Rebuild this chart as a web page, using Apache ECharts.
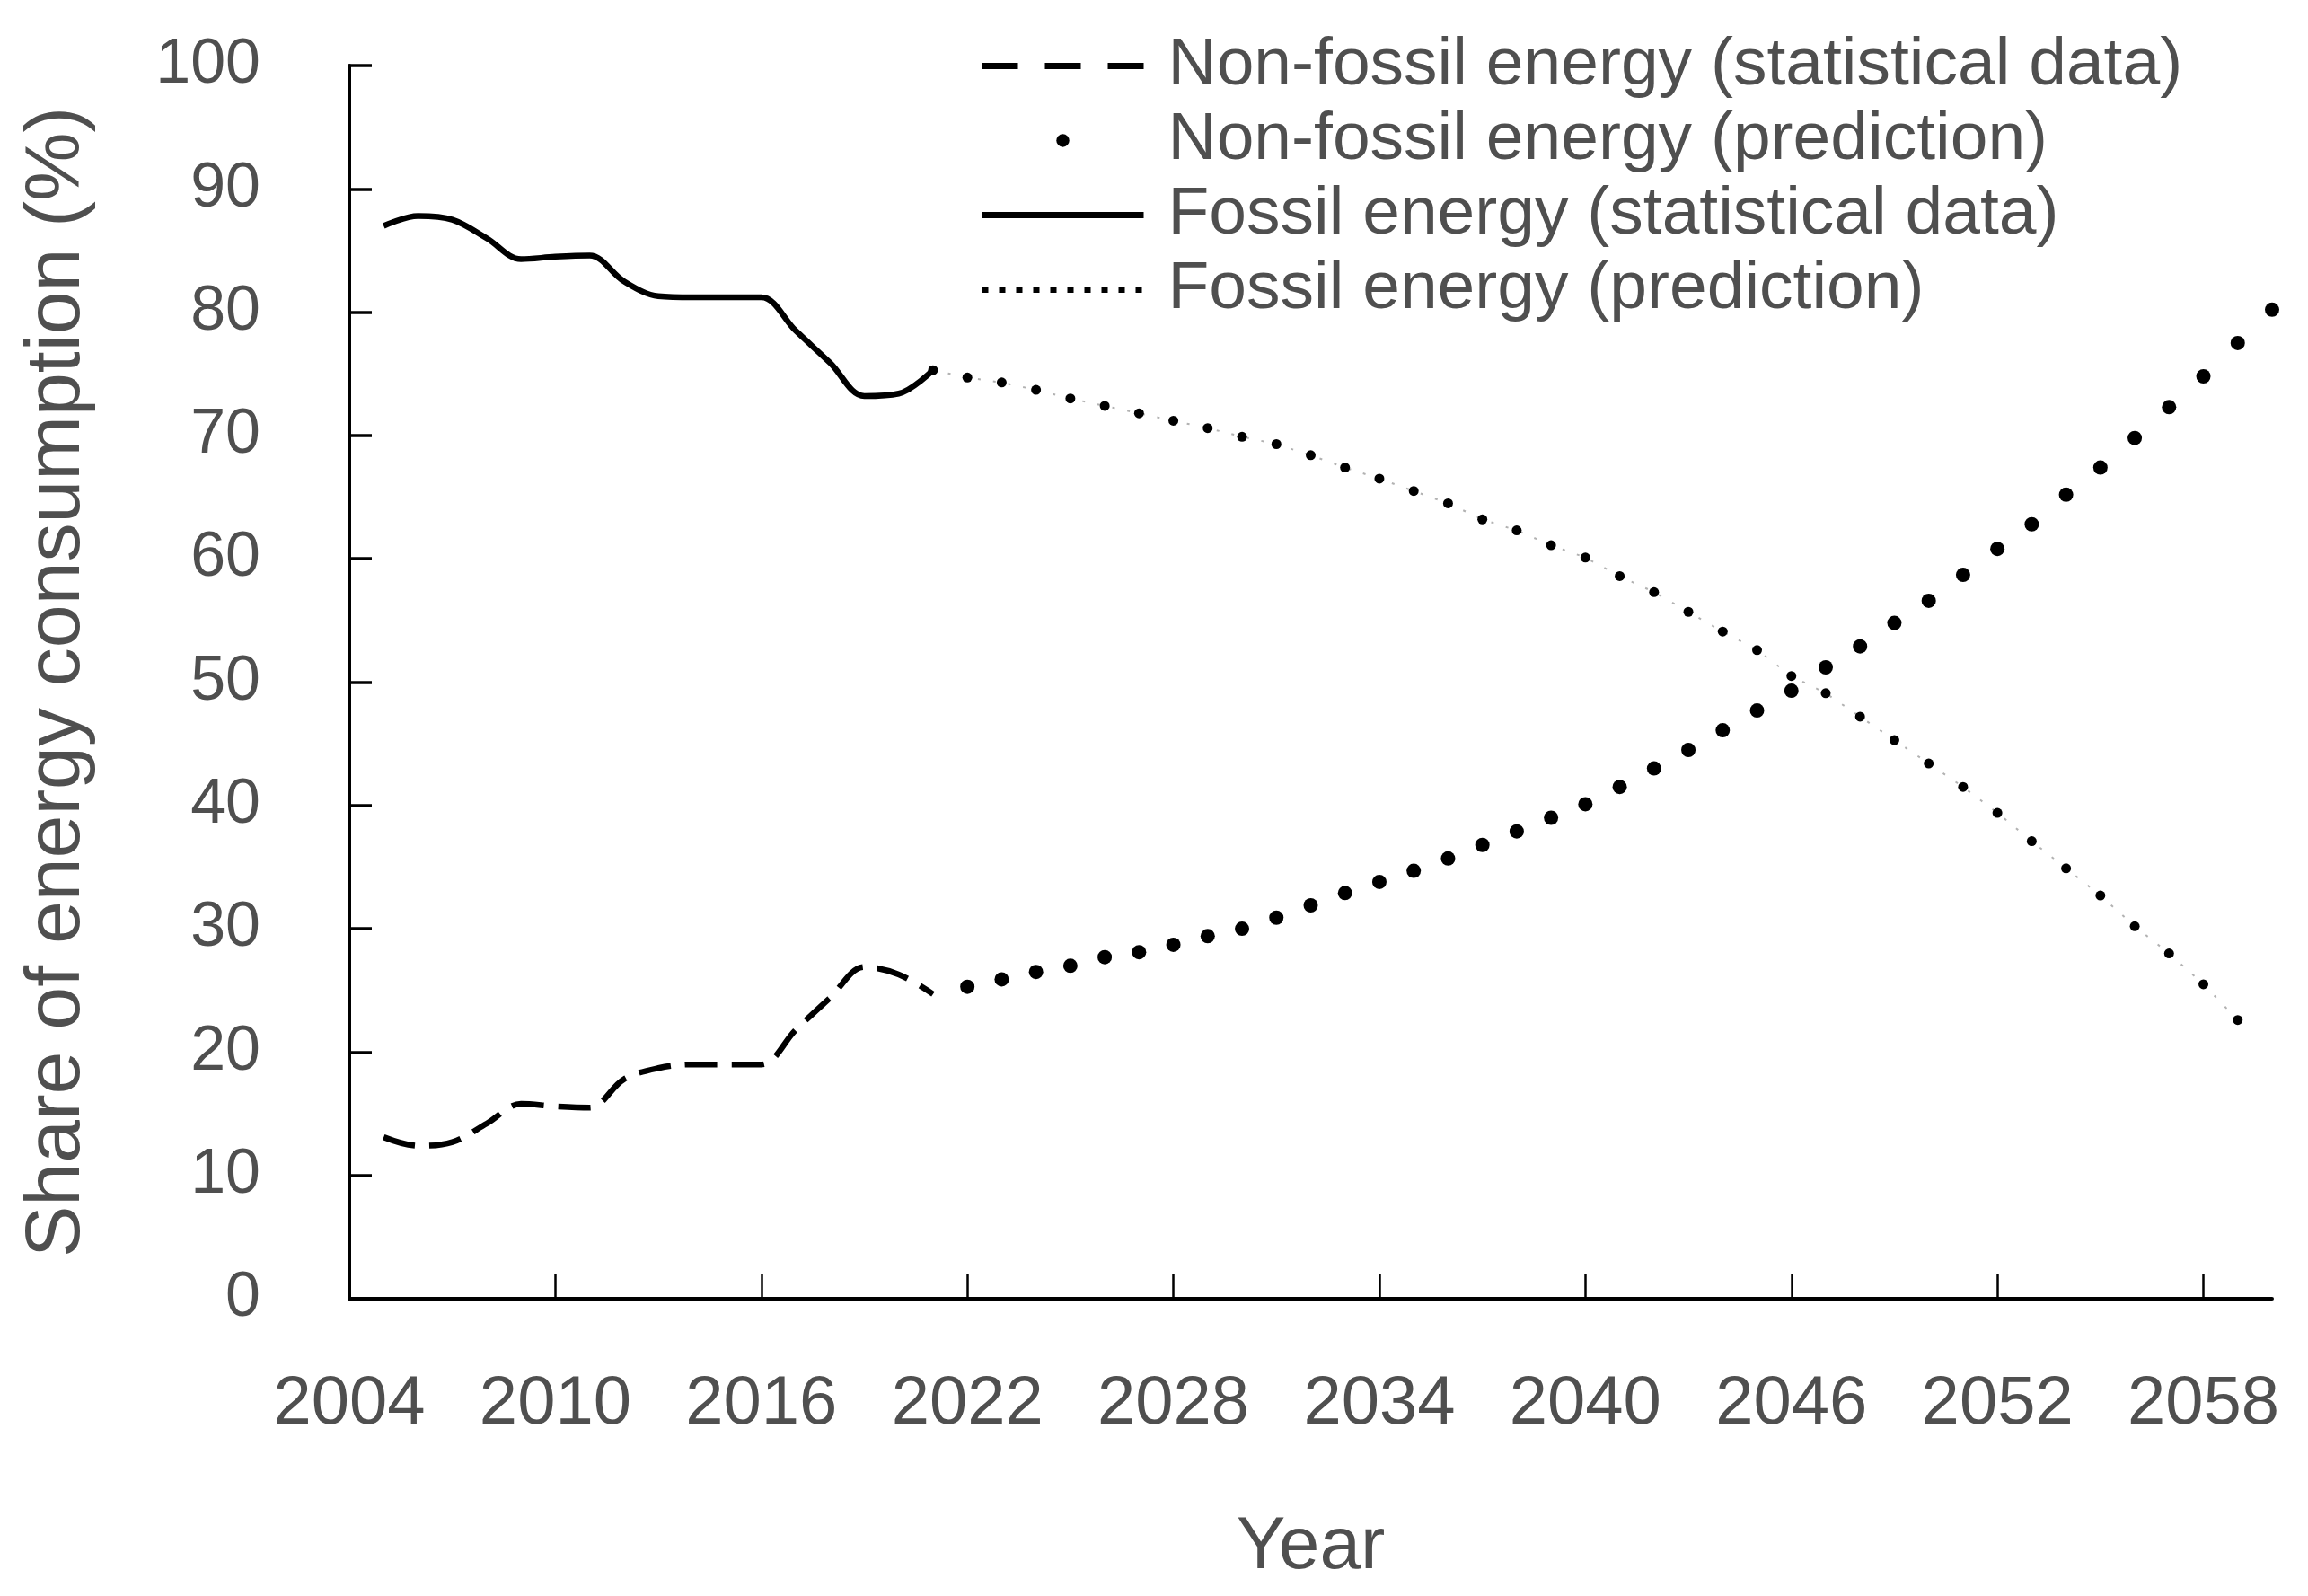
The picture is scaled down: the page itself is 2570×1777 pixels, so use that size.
<!DOCTYPE html>
<html><head><meta charset="utf-8">
<script src="https://cdn.jsdelivr.net/npm/echarts@6/dist/echarts.min.js"></script>
<style>html,body{margin:0;padding:0;background:#fff}#c{width:2570px;height:1777px}</style>
</head><body><div id="c"></div>
<script>
const statYears = [2005,2006,2007,2008,2009,2010,2011,2012,2013,2014,2015,2016,2017,2018,2019,2020,2021];
const nonFossilStat = [13.1,12.4,12.7,14.2,15.8,15.6,15.5,17.8,18.7,19.0,19.0,19.0,21.8,24.4,26.9,26.3,24.7];
const fossilStat = [87.0,87.8,87.5,86.0,84.3,84.5,84.6,82.5,81.3,81.2,81.2,81.2,78.5,75.9,73.2,73.4,75.3];

const nonFossilPredYears = [2022,2023,2024,2025,2026,2027,2028,2029,2030,2031,2032,2033,2034,2035,2036,2037,2038,2039,2040,2041,2042,2043,2044,2045,2046,2047,2048,2049,2050,2051,2052,2053,2054,2055,2056,2057,2058,2059,2060];
const nonFossilPred = [25.3,25.9,26.5,27.0,27.7,28.1,28.7,29.4,30.0,30.9,31.9,32.9,33.8,34.7,35.7,36.8,37.9,39.0,40.1,41.5,43.0,44.5,46.1,47.7,49.3,51.2,52.9,54.8,56.6,58.7,60.8,62.8,65.2,67.4,69.8,72.3,74.8,77.5,80.2];

const fossilPredYears = [2021,2022,2023,2024,2025,2026,2027,2028,2029,2030,2031,2032,2033,2034,2035,2036,2037,2038,2039,2040,2041,2042,2043,2044,2045,2046,2047,2048,2049,2050,2051,2052,2053,2054,2055,2056,2057,2058,2059];
const fossilPred = [75.3,74.7,74.3,73.7,73.0,72.4,71.8,71.2,70.6,69.9,69.3,68.4,67.4,66.5,65.5,64.5,63.2,62.3,61.1,60.1,58.6,57.3,55.7,54.1,52.6,50.5,49.1,47.2,45.3,43.4,41.5,39.4,37.1,34.9,32.7,30.2,28.0,25.5,22.6];

const xTickLabels = [2004,2010,2016,2022,2028,2034,2040,2046,2052,2058];
const seriesNames = ['Non-fossil energy (statistical data)','Non-fossil energy (prediction)','Fossil energy (statistical data)','Fossil energy (prediction)'];

const zip = (xs, ys) => xs.map((x, i) => [x, ys[i]]);
const FONT = "'Liberation Sans', Arial, sans-serif";
const TXT = '#4f4f4f';

const chart = echarts.init(document.getElementById('c'));
chart.setOption({
  animation: false,
  backgroundColor: '#fff',
  grid: { left: 389, right: 40, top: 73, bottom: 331, containLabel: false },
  legend: {
    orient: 'vertical', left: 1090, top: 36, padding: 0,
    itemWidth: 180, itemHeight: 18, itemGap: 8,
    data: [
      { name: seriesNames[0], itemStyle: { opacity: 0 }, lineStyle: { color: '#000', width: 7, type: [40, 30], opacity: 1 } },
      { name: seriesNames[1], itemStyle: { color: '#000' } },
      { name: seriesNames[2], itemStyle: { opacity: 0 }, lineStyle: { color: '#000', width: 7, type: 'solid', opacity: 1 } },
      { name: seriesNames[3], itemStyle: { opacity: 0 }, lineStyle: { color: '#000', width: 7, type: [7, 12], opacity: 1 } }
    ],
    textStyle: { fontFamily: FONT, fontSize: 75, color: TXT, lineHeight: 74, padding: [0, 0, 0, 22] }
  },
  xAxis: {
    type: 'value', min: 2004, max: 2060,
    name: 'Year', nameLocation: 'middle', nameGap: 236,
    nameTextStyle: { fontFamily: FONT, fontSize: 82, color: TXT },
    axisLine: { show: true, lineStyle: { color: '#000', width: 4 } },
    axisTick: { show: true, inside: true, length: 28, customValues: xTickLabels, lineStyle: { color: '#000', width: 2.5 } },
    axisLabel: { customValues: xTickLabels, formatter: v => String(v), fontFamily: FONT, fontSize: 76, color: TXT, margin: 80 },
    splitLine: { show: false }
  },
  yAxis: {
    type: 'value', min: 0, max: 100, interval: 10,
    name: 'Share of energy consumption (%)', nameLocation: 'middle', nameGap: 282, nameRotate: 90,
    nameTextStyle: { fontFamily: FONT, fontSize: 86, color: TXT },
    axisLine: { show: true, lineStyle: { color: '#000', width: 4 } },
    axisTick: { show: true, inside: true, length: 25, lineStyle: { color: '#000', width: 3.5 } },
    axisLabel: { fontFamily: FONT, fontSize: 70, color: TXT, margin: 99 },
    splitLine: { show: false }
  },
  series: [
    { name: seriesNames[0], type: 'line', data: zip(statYears, nonFossilStat), smooth: 0.35, symbol: 'none', clip: false,
      itemStyle: { color: '#000' },
      lineStyle: { color: '#000', width: 6.5, type: [36, 16] } },
    { name: seriesNames[1], type: 'line', data: zip(nonFossilPredYears, nonFossilPred), symbol: 'circle', symbolSize: 16, clip: false,
      itemStyle: { color: '#000' },
      lineStyle: { color: '#000', width: 0, opacity: 0 } },
    { name: seriesNames[2], type: 'line', data: zip(statYears, fossilStat), smooth: 0.35, symbol: 'none', clip: false,
      itemStyle: { color: '#000' },
      lineStyle: { color: '#000', width: 6.5, type: 'solid' } },
    { name: seriesNames[3], type: 'line', data: zip(fossilPredYears, fossilPred), symbol: 'circle', symbolSize: 11, clip: false,
      itemStyle: { color: '#000' },
      lineStyle: { color: '#555', width: 2, type: [3, 14], opacity: 0.45 } }
  ]
});
</script></body></html>
